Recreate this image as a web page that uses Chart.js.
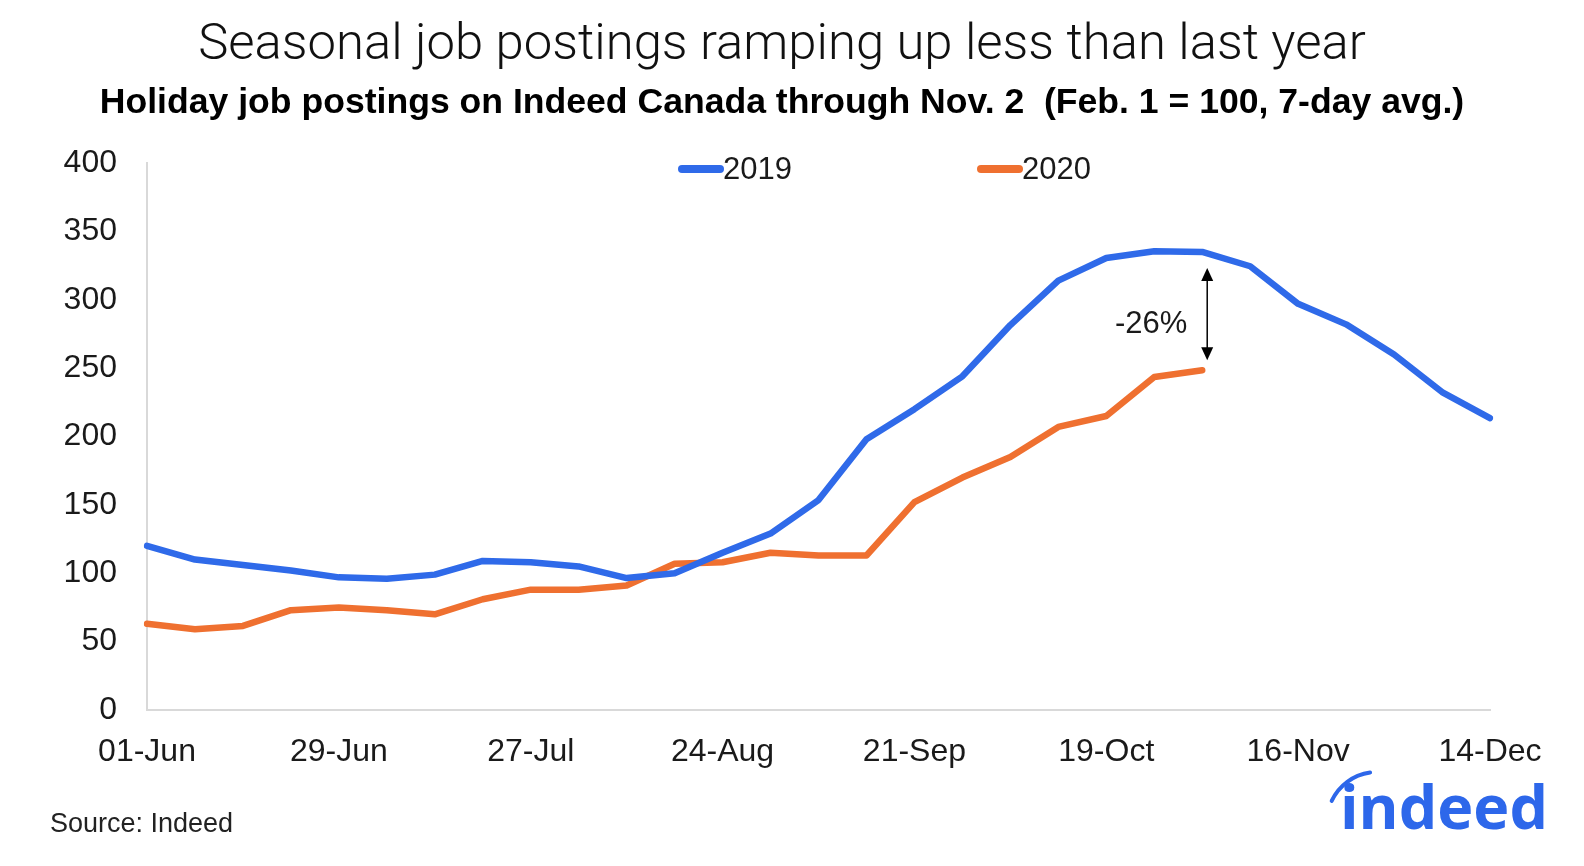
<!DOCTYPE html>
<html>
<head>
<meta charset="utf-8">
<script src="https://cdn.jsdelivr.net/npm/chart.js@4/dist/chart.umd.min.js"></script>
<style>
  html, body { margin: 0; padding: 0; background: #ffffff; }
  #wrap { width: 1584px; height: 866px; position: relative; overflow: hidden; }
  #c { position: absolute; left: 0; top: 0; }
  .ttl { position: absolute; left: 0; width: 1564px; text-align: center; white-space: pre; margin: 0; }
  #title { top: 11px; height: 61px; line-height: 61px; font-family: Roboto, 'Liberation Sans', sans-serif; font-weight: 300; font-size: 50.8px; color: #111; }
  #subtitle { top: 79.5px; height: 42.7px; line-height: 42.7px; font-family: 'Liberation Sans', Arial, sans-serif; font-weight: bold; font-size: 35.6px; color: #000; }
</style>
</head>
<body>
<div id="wrap">
  <canvas id="c" width="1584" height="866"></canvas>
  <div class="ttl" id="title">Seasonal job postings ramping up less than last year</div>
  <div class="ttl" id="subtitle">Holiday job postings on Indeed Canada through Nov. 2  (Feb. 1 = 100, 7-day avg.)</div>
</div>
<script>
const weekLabels = ["01-Jun","08-Jun","15-Jun","22-Jun","29-Jun","06-Jul","13-Jul","20-Jul","27-Jul","03-Aug","10-Aug","17-Aug","24-Aug","31-Aug","07-Sep","14-Sep","21-Sep","28-Sep","05-Oct","12-Oct","19-Oct","26-Oct","02-Nov","09-Nov","16-Nov","23-Nov","30-Nov","07-Dec","14-Dec"];
const postings2019 = [120,110,106,102,97,96,99,109,108,105,96.5,100,115,129,153.5,198,220,244,281.5,314,330.5,335.5,335,324.5,297,282,260,232.5,213.5];
const postings2020 = [63,59,61.5,73,75,73,70,81,88,88,91,107,108,115,113,113,152,170,185,207,215,243.5,248.5];
const yTicks = [0,50,100,150,200,250,300,350,400];
const seriesNames = ["2019","2020"];
const seriesColors = ["#2f6ae9","#ef7030"];

const TICK_FONT = { family: "'Liberation Sans', Arial, sans-serif", size: 32 };

const extrasPlugin = {
  id: 'extras',
  afterDraw(chart) {
    const ctx = chart.ctx;
    const xs = chart.scales.x, ys = chart.scales.y;
    ctx.save();
    // legend
    const legendX = [678, 977];
    const legendY = 169;
    chart.data.datasets.forEach((ds, i) => {
      ctx.strokeStyle = ds.borderColor;
      ctx.lineWidth = 8;
      ctx.lineCap = 'round';
      ctx.beginPath();
      ctx.moveTo(legendX[i] + 4, legendY);
      ctx.lineTo(legendX[i] + 42, legendY);
      ctx.stroke();
      ctx.fillStyle = '#1a1a1a';
      ctx.font = "31px 'Liberation Sans', Arial, sans-serif";
      ctx.textBaseline = 'middle';
      ctx.textAlign = 'left';
      ctx.fillText(ds.label, legendX[i] + 45, legendY + 1);
    });
    // annotation arrow between series at last 2020 point
    const idx = postings2020.length - 1;
    const ax = xs.getPixelForValue(idx) + 5;
    const yTop = ys.getPixelForValue(postings2019[idx]) + 16;
    const yBot = ys.getPixelForValue(postings2020[idx]) - 10;
    ctx.strokeStyle = '#000';
    ctx.fillStyle = '#000';
    ctx.lineWidth = 1.5;
    ctx.lineCap = 'butt';
    ctx.beginPath();
    ctx.moveTo(ax, yTop + 10);
    ctx.lineTo(ax, yBot - 10);
    ctx.stroke();
    ctx.beginPath();
    ctx.moveTo(ax, yTop); ctx.lineTo(ax - 6, yTop + 13); ctx.lineTo(ax + 6, yTop + 13); ctx.closePath(); ctx.fill();
    ctx.beginPath();
    ctx.moveTo(ax, yBot); ctx.lineTo(ax - 6, yBot - 13); ctx.lineTo(ax + 6, yBot - 13); ctx.closePath(); ctx.fill();
    const pct = Math.round((postings2020[idx] / postings2019[idx] - 1) * 100);
    ctx.font = "31px 'Liberation Sans', Arial, sans-serif";
    ctx.textAlign = 'center';
    ctx.textBaseline = 'middle';
    ctx.fillStyle = '#1a1a1a';
    ctx.fillText(pct + '%', ax - 56, (yTop + yBot) / 2 + 10);
    // source
    ctx.textAlign = 'left';
    ctx.textBaseline = 'alphabetic';
    ctx.font = "27px 'Liberation Sans', Arial, sans-serif";
    ctx.fillStyle = '#222';
    ctx.fillText('Source: Indeed', 50, 832);
    // logo
    ctx.fillStyle = '#2d67ea';
    ctx.font = "bold 61px 'Open Sans', 'Liberation Sans', sans-serif";
    ctx.fillText('indeed', 1340, 829);
    ctx.strokeStyle = '#2d67ea';
    ctx.lineWidth = 4;
    ctx.lineCap = 'round';
    ctx.beginPath();
    ctx.arc(1377, 822, 50, Math.PI * 1.139, Math.PI * 1.456);
    ctx.stroke();
    ctx.restore();
  }
};

new Chart(document.getElementById('c'), {
  type: 'line',
  data: {
    labels: weekLabels,
    datasets: [
      { label: seriesNames[0], data: postings2019, borderColor: seriesColors[0], backgroundColor: seriesColors[0],
        borderWidth: 6.5, pointRadius: 0, tension: 0, borderCapStyle: 'round', borderJoinStyle: 'round' },
      { label: seriesNames[1], data: postings2020, borderColor: seriesColors[1], backgroundColor: seriesColors[1],
        borderWidth: 6.5, pointRadius: 0, tension: 0, borderCapStyle: 'round', borderJoinStyle: 'round' }
    ]
  },
  options: {
    responsive: false,
    animation: false,
    devicePixelRatio: 1,
    layout: { padding: { left: 0, right: 94, top: 163, bottom: 0 } },
    plugins: {
      legend: { display: false },
      tooltip: { enabled: false },
      title: { display: false },
      subtitle: { display: false }
    },
    scales: {
      x: {
        type: 'category',
        offset: false,
        grid: { display: false, drawTicks: false },
        border: { display: true, color: '#d9d9d9', width: 2 },
        ticks: {
          autoSkip: false, maxRotation: 0, minRotation: 0, padding: 22.5,
          color: '#1a1a1a', font: TICK_FONT,
          callback: function(v, i) { return i % 4 === 0 ? weekLabels[i] : ''; }
        },
        afterFit(scale) { scale.height = 156; }
      },
      y: {
        min: 0, max: 400,
        grid: { display: false, drawTicks: false },
        border: { display: true, color: '#d9d9d9', width: 2 },
        afterBuildTicks(scale) { scale.ticks = yTicks.map(v => ({ value: v })); },
        ticks: { padding: 30, color: '#1a1a1a', font: TICK_FONT },
        afterFit(scale) { scale.width = 147; }
      }
    }
  },
  plugins: [extrasPlugin]
});
</script>
</body>
</html>
